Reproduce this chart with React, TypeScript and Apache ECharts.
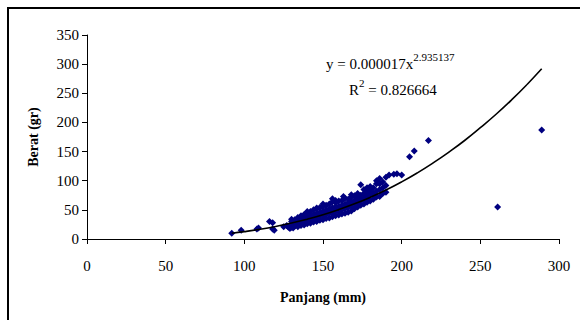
import React, { useEffect, useRef } from "react";
import * as echarts from "echarts";

// Scatter data: Panjang (mm) and Berat (gr)
const panjang: number[] = [
  92, 98, 108, 109, 116, 118, 118, 119, 125, 127, 128,
  130, 130, 130, 130, 132, 132, 132, 134, 134, 134, 134,
  136, 136, 136, 136, 138, 138, 138, 138, 140, 140, 140, 140,
  142, 142, 142, 142, 144, 144, 144, 144, 146, 146, 146, 146,
  148, 148, 148, 148, 150, 150, 150, 150, 152, 152, 152, 152,
  154, 154, 154, 154, 156, 156, 156, 156, 156, 158, 158, 158, 158,
  160, 160, 160, 160, 162, 162, 162, 162, 164, 164, 164, 164,
  166, 166, 166, 166, 168, 168, 168, 168, 170, 170, 170, 170,
  172, 172, 172, 172, 174, 174, 174, 174, 176, 176, 176, 176,
  178, 178, 178, 180, 180, 180, 180, 182, 182, 182, 184, 184, 184,
  186, 186, 186, 186, 188, 188, 190, 190, 190, 192, 195, 197, 200,
  133, 137, 141, 145, 149, 153, 157, 161, 165, 169, 173, 177, 181,
  135, 139, 143, 147, 151, 155, 159, 163, 167, 171, 175, 179, 183,
  146, 140, 163, 150, 158, 168, 178, 184, 188, 129, 131,
  205, 208, 217, 261, 289,
];
const berat: number[] = [
  10, 15, 17, 19, 30, 28, 17, 15, 21, 23, 20,
  20, 25, 30, 34, 22, 27, 33, 21, 26, 31, 37,
  23, 29, 35, 40, 24, 30, 36, 42, 26, 31, 38, 45,
  27, 33, 40, 47, 29, 35, 42, 50, 30, 37, 44, 52,
  32, 39, 46, 54, 33, 40, 48, 56, 35, 42, 50, 58,
  36, 44, 52, 60, 38, 45, 54, 64, 69, 40, 47, 55, 62,
  41, 48, 56, 65, 43, 50, 58, 66, 44, 52, 60, 70,
  46, 54, 62, 68, 48, 56, 64, 72, 52, 58, 66, 74,
  55, 62, 70, 78, 58, 66, 75, 93, 60, 68, 78, 85,
  63, 72, 80, 65, 75, 84, 90, 68, 78, 88, 72, 82, 100,
  73, 85, 95, 104, 78, 88, 80, 92, 106, 110, 111, 112, 110,
  30, 34, 36, 40, 44, 47, 51, 53, 57, 61, 70, 74, 79,
  27, 31, 35, 41, 45, 49, 52, 55, 59, 63, 68, 72, 76,
  53, 47, 73, 60, 66, 76, 88, 95, 98, 18, 19,
  141, 151, 169, 55, 187,
];

// Power trendline
const trendX: number[] = [92, 100, 110, 120, 130, 140, 150, 160, 170, 180, 190, 200, 210, 220, 230, 240, 250, 260, 270, 280, 289];
const trendY: number[] = [9.9, 12.6, 16.7, 21.6, 27.3, 34, 41.6, 50.4, 60.3, 71.5, 84, 98, 113.5, 130.5, 149, 169, 191, 214, 239, 266, 292];

const xTicks: number[] = [0, 50, 100, 150, 200, 250, 300];
const yTicks: number[] = [0, 50, 100, 150, 200, 250, 300, 350];

const equationMain = "y = 0.000017x";
const equationExp = "2.935137";
const rSquared = "= 0.826664";

const FONT = "Liberation Serif";

export default function App() {
  const ref = useRef<HTMLDivElement>(null);

  useEffect(() => {
    if (!ref.current) return;
    const chart = echarts.init(ref.current, null, { renderer: "svg" });
    const scatterData = panjang.map((x, i) => [x, berat[i]]);
    const trendData = trendX.map((x, i) => [x, trendY[i]]);

    chart.setOption({
      animation: false,
      backgroundColor: "#ffffff",
      textStyle: { fontFamily: FONT },
      grid: { left: 87, right: 21, top: 35, bottom: 81 },
      xAxis: {
        type: "value",
        min: xTicks[0],
        max: xTicks[xTicks.length - 1],
        interval: 50,
        name: "Panjang (mm)",
        nameLocation: "middle",
        nameGap: 51,
        nameTextStyle: { fontFamily: FONT, fontWeight: "bold", fontSize: 14, color: "#000" },
        axisLine: { show: true, lineStyle: { color: "#000", width: 1 } },
        axisTick: { show: true, length: 5, lineStyle: { color: "#000" } },
        axisLabel: { fontFamily: FONT, fontSize: 15, color: "#000", margin: 19 },
        splitLine: { show: false },
      },
      yAxis: {
        type: "value",
        min: yTicks[0],
        max: yTicks[yTicks.length - 1],
        interval: 50,
        name: "Berat (gr)",
        nameLocation: "middle",
        nameGap: 47,
        nameRotate: 90,
        nameTextStyle: { fontFamily: FONT, fontWeight: "bold", fontSize: 14, color: "#000" },
        axisLine: { show: true, lineStyle: { color: "#000", width: 1 } },
        axisTick: { show: true, length: 5, lineStyle: { color: "#000" } },
        axisLabel: { fontFamily: FONT, fontSize: 15, color: "#000", margin: 8 },
        splitLine: { show: false },
      },
      series: [
        {
          type: "scatter",
          data: scatterData,
          symbol: "diamond",
          symbolSize: 7,
          itemStyle: { color: "#000080", opacity: 1 },
          z: 2,
        },
        {
          type: "line",
          data: trendData,
          smooth: true,
          showSymbol: false,
          symbol: "none",
          lineStyle: { color: "#000", width: 1.6 },
          z: 3,
        },
      ],
      graphic: [
        {
          type: "rect",
          shape: { x: 8, y: 8, width: 600, height: 400 },
          style: { fill: "none", stroke: "#000", lineWidth: 2 },
          silent: true,
        },
        {
          type: "text",
          x: 326,
          y: 51,
          style: {
            text: "{a|" + equationMain + "}{b|" + equationExp + "}",
            rich: {
              a: { fontFamily: FONT, fontSize: 15, fill: "#000", verticalAlign: "bottom", lineHeight: 20 },
              b: { fontFamily: FONT, fontSize: 11, fill: "#000", verticalAlign: "top", lineHeight: 20, padding: [0, 0, 10, 0] },
            },
          },
        },
        {
          type: "text",
          x: 349,
          y: 77,
          style: {
            text: "{a|R}{b|2}{a| " + rSquared + "}",
            rich: {
              a: { fontFamily: FONT, fontSize: 15, fill: "#000", verticalAlign: "bottom", lineHeight: 20 },
              b: { fontFamily: FONT, fontSize: 11, fill: "#000", verticalAlign: "top", lineHeight: 20, padding: [0, 0, 10, 0] },
            },
          },
        },
      ],
    });

    return () => chart.dispose();
  }, []);

  return (
    <div
      ref={ref}
      style={{ position: "absolute", left: 0, top: 0, width: 580, height: 320 }}
    />
  );
}
